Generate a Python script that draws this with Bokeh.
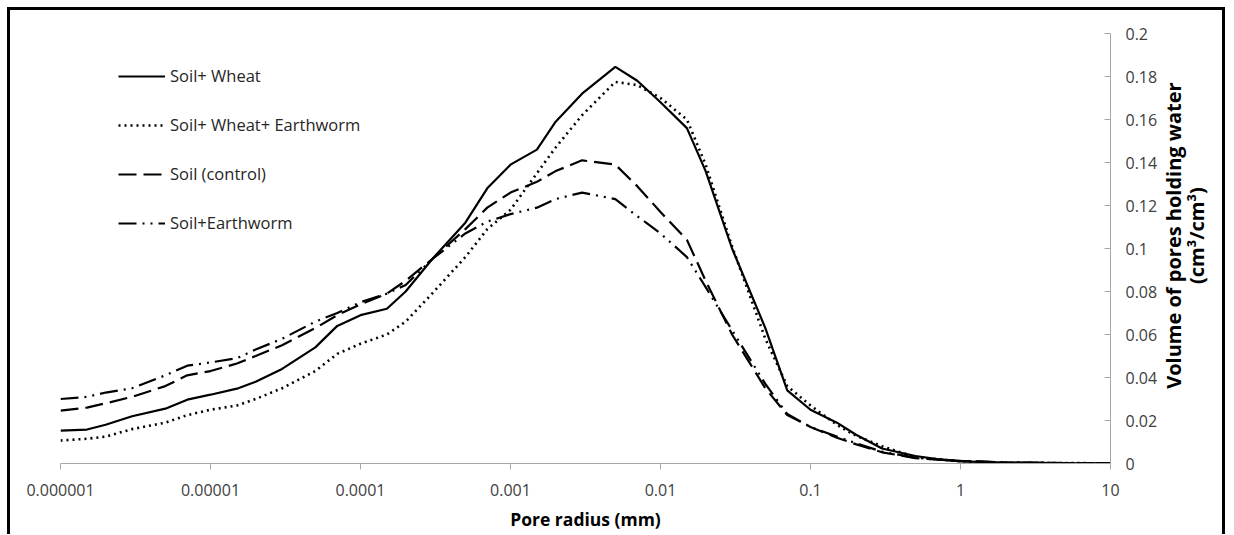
from bokeh.plotting import figure
from bokeh.layouts import row
from bokeh.models import FixedTicker, Legend, LegendItem, ColumnDataSource
from bokeh.core.properties import value
from bokeh.embed import file_html
from bokeh.resources import INLINE

# ---- data ----
pore_radius_mm = [1e-6, 1.5e-6, 2e-6, 3e-6, 5e-6, 7e-6, 1e-5, 1.5e-5, 2e-5, 3e-5,
                  5e-5, 7e-5, 1e-4, 1.5e-4, 2e-4, 3e-4, 5e-4, 7e-4, 1e-3, 1.5e-3,
                  2e-3, 3e-3, 5e-3, 7e-3, 1e-2, 1.5e-2, 2e-2, 3e-2, 5e-2, 7e-2,
                  0.1, 0.15, 0.2, 0.3, 0.5, 0.7, 1, 2, 5, 10]

soil_wheat = [0.0153, 0.0158, 0.018, 0.022, 0.0255, 0.0297, 0.032, 0.0348, 0.038, 0.044,
              0.054, 0.064, 0.069, 0.072, 0.080, 0.095, 0.112, 0.128, 0.139, 0.146,
              0.159, 0.172, 0.1845, 0.178, 0.168, 0.156, 0.136, 0.100, 0.063, 0.034,
              0.025, 0.019, 0.0135, 0.007, 0.0035, 0.002, 0.001, 0.0004, 0.0002, 0.0001]

soil_wheat_earthworm = [0.0107, 0.0115, 0.0125, 0.016, 0.019, 0.0225, 0.025, 0.027, 0.030, 0.035,
                        0.043, 0.051, 0.0557, 0.060, 0.066, 0.079, 0.096, 0.109, 0.118, 0.135,
                        0.147, 0.162, 0.1775, 0.176, 0.170, 0.160, 0.139, 0.101, 0.058, 0.036,
                        0.027, 0.018, 0.013, 0.008, 0.003, 0.002, 0.001, 0.0004, 0.0002, 0.0001]

soil_control = [0.0246, 0.026, 0.028, 0.031, 0.036, 0.041, 0.043, 0.0465, 0.050, 0.055,
                0.063, 0.069, 0.074, 0.079, 0.085, 0.095, 0.109, 0.119, 0.126, 0.131,
                0.136, 0.141, 0.139, 0.129, 0.117, 0.104, 0.085, 0.060, 0.035, 0.0225,
                0.017, 0.012, 0.009, 0.0052, 0.0025, 0.0018, 0.0012, 0.0005, 0.0002, 0.0001]

soil_earthworm = [0.030, 0.031, 0.033, 0.035, 0.041, 0.0455, 0.047, 0.049, 0.053, 0.058,
                  0.066, 0.070, 0.075, 0.079, 0.083, 0.095, 0.107, 0.1125, 0.116, 0.119,
                  0.123, 0.126, 0.123, 0.115, 0.107, 0.096, 0.082, 0.062, 0.037, 0.023,
                  0.017, 0.0125, 0.0095, 0.0055, 0.0027, 0.0018, 0.0012, 0.0005, 0.0002, 0.0001]

series_names = ["Soil+ Wheat", "Soil+ Wheat+ Earthworm", "Soil (control)", "Soil+Earthworm"]

x_ticks = [1e-6, 1e-5, 1e-4, 1e-3, 1e-2, 1e-1, 1, 10]
x_tick_labels = ["0.000001", "0.00001", "0.0001", "0.001", "0.01", "0.1", "1", "10"]
y_ticks = [0, 0.02, 0.04, 0.06, 0.08, 0.1, 0.12, 0.14, 0.16, 0.18, 0.2]
y_tick_labels = ["0", "0.02", "0.04", "0.06", "0.08", "0.1", "0.12", "0.14", "0.16", "0.18", "0.2"]

x_title = "Pore radius (mm)"
y_title_lines = ["Volume of pores holding water", "(cm\u00b3/cm\u00b3)"]

FONT = "Open Sans"
AXIS_GRAY = "#a6a6a6"
LABEL_GRAY = "#404040"
H = 524
TOP, BOTTOM = 23, 71

p = figure(width=1150, height=H, x_axis_type="log",
           x_range=(1e-6, 10), y_range=(0, 0.2),
           y_axis_location="right",
           output_backend="svg", toolbar_location=None,
           min_border_left=50, min_border_right=50,
           min_border_top=TOP, min_border_bottom=BOTTOM)
p.outline_line_color = None
p.grid.visible = False
p.background_fill_color = "white"
p.border_fill_color = "white"

styles = [
    dict(line_dash="solid", line_width=2.2),
    dict(line_dash="2 4", line_width=2.6),
    dict(line_dash="18 7", line_width=2.2),
    dict(line_dash="18 6 2 6 2 6", line_width=2.2),
]
ys = [soil_wheat, soil_wheat_earthworm, soil_control, soil_earthworm]
items = []
for name, y, st in zip(series_names, ys, styles):
    r = p.line(pore_radius_mm, y, line_color="black", **st)
    items.append(LegendItem(label=name, renderers=[r]))

legend = Legend(items=items, location=(58, 229), orientation="vertical",
                glyph_width=47, glyph_height=20, label_height=20,
                label_standoff=5, spacing=26, padding=0, margin=0,
                border_line_color=None, background_fill_alpha=0,
                label_text_font=FONT, label_text_font_size="16.5px",
                label_text_color="#262626")
p.add_layout(legend)

# x axis
xa = p.xaxis[0]
xa.ticker = FixedTicker(ticks=x_ticks, minor_ticks=[])
xa.major_label_overrides = {t: l for t, l in zip(x_ticks, x_tick_labels)}
xa.axis_line_color = AXIS_GRAY
xa.major_tick_line_color = AXIS_GRAY
xa.major_tick_out = 6
xa.major_tick_in = 0
xa.minor_tick_line_color = None
xa.major_label_text_font = FONT
xa.major_label_text_font_size = "16px"
xa.major_label_text_color = LABEL_GRAY
xa.major_label_standoff = 14
xa.axis_label = x_title
xa.axis_label_text_font = FONT
xa.axis_label_text_font_size = "17.5px"
xa.axis_label_text_font_style = "bold"
xa.axis_label_text_color = "black"
xa.axis_label_standoff = 8

# y axis (right)
ya = p.yaxis[0]
ya.ticker = FixedTicker(ticks=y_ticks, minor_ticks=[])
ya.major_label_overrides = {t: l for t, l in zip(y_ticks, y_tick_labels)}
ya.axis_line_color = AXIS_GRAY
ya.major_tick_line_color = AXIS_GRAY
ya.major_tick_out = 0
ya.major_tick_in = 6
ya.minor_tick_line_color = None
ya.major_label_text_font = FONT
ya.major_label_text_font_size = "16px"
ya.major_label_text_color = LABEL_GRAY
ya.major_label_standoff = 15

# y-axis title strip (rotated, reading bottom-to-top)
t = figure(width=62, height=H, x_range=(0, 62), y_range=(0, 0.2),
           output_backend="svg", toolbar_location=None,
           x_axis_location=None, y_axis_location=None,
           min_border_left=0, min_border_right=0,
           min_border_top=TOP, min_border_bottom=BOTTOM)
t.outline_line_color = None
t.grid.visible = False
t.border_fill_color = "white"
src = ColumnDataSource(dict(x=[13, 36], y=[0.106, 0.106], text=y_title_lines))
t.text(x="x", y="y", text="text", source=src, angle=1.5708,
       text_align="center", text_baseline="middle",
       text_font=value(FONT), text_font_size="20px", text_font_style="bold",
       text_color="black")

layout = row(p, t, spacing=0,
             styles={"margin-left": "7px", "margin-top": "7px",
                     "border-top": "3px solid #000", "border-left": "3px solid #000",
                     "border-right": "3px solid #000"})

open("out.html", "w").write(file_html(layout, INLINE))
